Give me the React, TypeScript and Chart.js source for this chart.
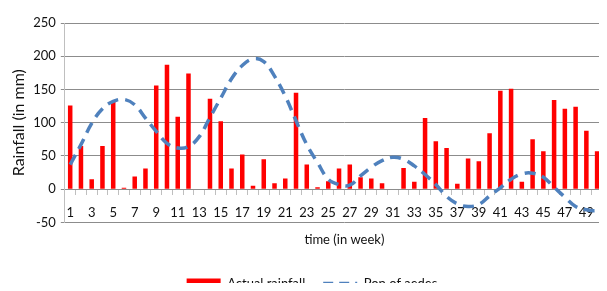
import { useEffect, useRef } from 'react';
import { Chart, registerables } from 'chart.js';

Chart.register(...registerables);

const weeks = ['1', '2', '3', '4', '5', '6', '7', '8', '9', '10', '11', '12', '13', '14', '15', '16', '17', '18', '19', '20', '21', '22', '23', '24', '25', '26', '27', '28', '29', '30', '31', '32', '33', '34', '35', '36', '37', '38', '39', '40', '41', '42', '43', '44', '45', '46', '47', '48', '49', '50', '51', '52'];

const rainfall = [126, 65, 15, 65, 132, 2, 19, 31, 156, 187, 109, 174, 0, 136, 102, 31, 52, 5, 45, 9, 16, 145, 37, 3, 12, 31, 37, 18, 16, 9, 0, 32, 11, 107, 72, 62, 8, 46, 42, 84, 148, 151, 11, 75, 57, 134, 121, 124, 88, 57, null, null];

const aedes = [37, 67, 99, 121, 132, 135, 127, 107, 87, 69, 62, 64, 79, 108, 137, 166, 186, 196, 192, 170, 140, 103, 67, 40, 15, 7, 6, 20, 33, 43, 48, 45, 35, 22, 7, -11, -22, -26, -23, -10, 2, 15, 23, 24, 18, 3, -12, -26, -31, -32, -27, -20];

const yMin = -50;
const yMax = 250;
const yStep = 50;

const FAMILY = "Lato, 'Open Sans', sans-serif";

export default function App() {
  const ref = useRef<HTMLCanvasElement>(null);
  useEffect(() => {
    const chart = new Chart(ref.current as HTMLCanvasElement, {
      type: 'bar',
      data: {
        labels: weeks,
        datasets: [
          {
            type: 'bar',
            label: 'Actual rainfall',
            data: rainfall,
            backgroundColor: '#FF0000',
            barPercentage: 0.42,
            categoryPercentage: 1,
            order: 2,
          },
          {
            type: 'line',
            label: 'Pop of aedes',
            data: aedes,
            borderColor: '#4F81BD',
            backgroundColor: '#4F81BD',
            borderWidth: 3.5,
            borderDash: [11, 7],
            pointRadius: 0,
            tension: 0.4,
            fill: false,
            order: 1,
          },
        ],
      } as any,
      options: {
        animation: false,
        responsive: false,
        layout: { padding: { top: 23, right: 12, left: 0, bottom: 0 } },
        scales: {
          x: {
            position: { y: 0 } as any,
            grid: { offset: true, drawOnChartArea: false, color: '#bfbfbf', tickLength: 5 },
            border: { color: '#8c8c8c' },
            ticks: {
              autoSkip: false,
              maxRotation: 0,
              padding: 11,
              color: '#111',
              font: { family: FAMILY, size: 13 },
              callback: (_v: any, i: number) => (i % 2 === 0 ? weeks[i] : ''),
            },
          },
          x2: {
            type: 'category',
            position: 'bottom',
            grid: { display: false },
            border: { display: false },
            ticks: { display: false },
            title: {
              display: true,
              text: 'time (in week)',
              color: '#111',
              font: { family: FAMILY, size: 13 },
              padding: { top: 2, bottom: 11 },
            },
          },
          y: {
            min: yMin,
            max: yMax,
            ticks: { stepSize: yStep, color: '#111', font: { family: FAMILY, size: 13 }, padding: 5 },
            grid: { color: '#8c8c8c', tickLength: 4 },
            border: { color: '#bfbfbf' },
            title: {
              display: true,
              text: 'Rainfall (in mm)',
              color: '#111',
              font: { family: FAMILY, size: 16 },
              padding: { top: 9, bottom: 0 },
            },
          },
        } as any,
        plugins: {
          legend: {
            position: 'bottom',
            labels: {
              usePointStyle: true,
              pointStyleWidth: 34,
              boxHeight: 10,
              padding: 18,
              color: '#111',
              font: { family: FAMILY, size: 13 },
              sort: (a: any, b: any) => a.datasetIndex - b.datasetIndex,
              generateLabels: (c: any) => {
                const items = Chart.defaults.plugins.legend.labels.generateLabels(c);
                items.forEach((it: any) => {
                  if (it.datasetIndex === 0) {
                    it.pointStyle = 'rect';
                    it.lineWidth = 0;
                    it.fillStyle = '#FF0000';
                  } else {
                    it.pointStyle = 'line';
                    it.lineWidth = 3.5;
                    it.lineDash = [10, 6];
                    it.strokeStyle = '#4F81BD';
                  }
                });
                return items;
              },
            },
          },
          tooltip: { enabled: false },
        },
      } as any,
    });
    return () => chart.destroy();
  }, []);
  return (
    <div style={{ margin: -8, width: 607, height: 291, overflow: 'hidden' }}>
      <canvas ref={ref} width={636} height={300} style={{ display: 'block' }} />
    </div>
  );
}
